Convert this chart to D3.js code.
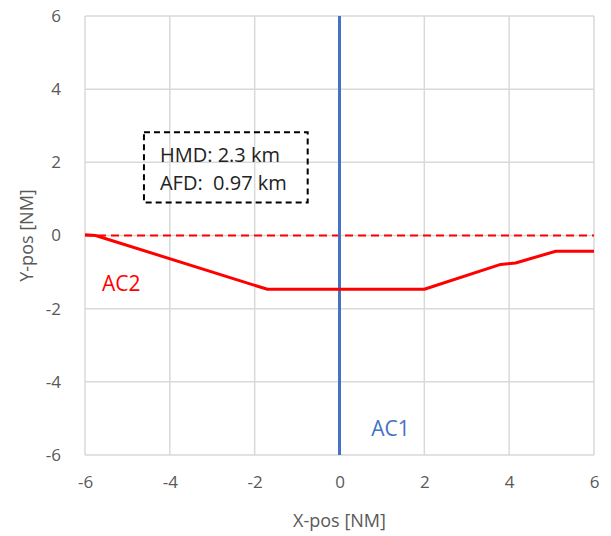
<!DOCTYPE html>
<html>
<head>
<meta charset="utf-8">
<script src="https://cdn.jsdelivr.net/npm/d3@7"></script>
<style>
  body { margin: 0; background: #fff; }
  text { font-family: "Open Sans", "Noto Sans", sans-serif; }
</style>
</head>
<body>
<div id="chart"></div>
<script>
// Data
const xTicks = [-6, -4, -2, 0, 2, 4, 6];
const yTicks = [-6, -4, -2, 0, 2, 4, 6];

// AC2 track (red)
const ac2X = [-6, -5.75, -1.7, 2.0, 3.8, 4.15, 5.1, 6];
const ac2Y = [0.02, 0.0, -1.47, -1.47, -0.79, -0.75, -0.43, -0.43];

// AC1 track (blue, vertical)
const ac1X = [0, 0];
const ac1Y = [-6, 6];

// reference line y = 0
const refX = [-6, 6];
const refY = [0, 0];

const infoLines = ["HMD: 2.3 km", "AFD:  0.97 km"];

const W = 611, H = 536;
const margin = { top: 16, right: 17, bottom: 81, left: 85 };
const width = W - margin.left - margin.right;
const height = H - margin.top - margin.bottom;

const svg = d3.select("#chart").append("svg")
  .attr("width", W).attr("height", H);

const g = svg.append("g")
  .attr("transform", `translate(${margin.left},${margin.top})`);

const x = d3.scaleLinear().domain([-6, 6]).range([0, width]);
const y = d3.scaleLinear().domain([-6, 6]).range([height, 0]);

const gridColor = "#d9d9d9";
const labelColor = "#595959";

// grid
g.append("g")
  .selectAll("line")
  .data(xTicks)
  .join("line")
  .attr("x1", d => x(d)).attr("x2", d => x(d))
  .attr("y1", 0).attr("y2", height)
  .attr("stroke", gridColor).attr("stroke-width", 1.5);

g.append("g")
  .selectAll("line")
  .data(yTicks)
  .join("line")
  .attr("y1", d => y(d)).attr("y2", d => y(d))
  .attr("x1", 0).attr("x2", width)
  .attr("stroke", gridColor).attr("stroke-width", 1.5);

// axes (labels only), plain hyphen minus like the original
const xAxis = g.append("g")
  .attr("transform", `translate(0,${height})`)
  .call(d3.axisBottom(x).tickValues(xTicks).tickFormat(d => String(d))
    .tickSize(0).tickPadding(21));
const yAxis = g.append("g")
  .call(d3.axisLeft(y).tickValues(yTicks).tickFormat(d => String(d))
    .tickSize(0).tickPadding(24));

[xAxis, yAxis].forEach(a => {
  a.select(".domain").remove();
  a.selectAll("text")
    .attr("fill", labelColor)
    .style("font-size", "17px")
    .style("font-family", "'Open Sans', sans-serif");
});

// axis titles
svg.append("text")
  .attr("x", margin.left + width / 2)
  .attr("y", 527)
  .attr("text-anchor", "middle")
  .attr("fill", labelColor)
  .style("font-size", "18px")
  .text("X-pos [NM]");

svg.append("text")
  .attr("transform", "rotate(-90)")
  .attr("x", -(margin.top + y(0)))
  .attr("y", 33)
  .attr("text-anchor", "middle")
  .attr("fill", labelColor)
  .style("font-size", "18px")
  .text("Y-pos [NM]");

const line = d3.line()
  .x(d => x(d[0]))
  .y(d => y(d[1]));

// dashed zero reference
g.append("path")
  .datum(d3.zip(refX, refY))
  .attr("d", line)
  .attr("fill", "none")
  .attr("stroke", "#ff0000")
  .attr("stroke-width", 2)
  .attr("stroke-dasharray", "8 5");

// AC1
g.append("path")
  .datum(d3.zip(ac1X, ac1Y))
  .attr("d", line)
  .attr("fill", "none")
  .attr("stroke", "#4472c4")
  .attr("stroke-width", 3);

// AC2
g.append("path")
  .datum(d3.zip(ac2X, ac2Y))
  .attr("d", line)
  .attr("fill", "none")
  .attr("stroke", "#ff0000")
  .attr("stroke-width", 3)
  .attr("stroke-linejoin", "round");

// series labels
g.append("text")
  .attr("x", x(-5.6)).attr("y", y(-1.53))
  .attr("fill", "#ff0000")
  .style("font-size", "21px")
  .text("AC2");

g.append("text")
  .attr("x", x(0.75)).attr("y", y(-5.48))
  .attr("fill", "#4472c4")
  .style("font-size", "21px")
  .text("AC1");

// info box
const bx0 = x(-4.61), bx1 = x(-0.75), by0 = y(2.82), by1 = y(0.9);
g.append("rect")
  .attr("x", bx0).attr("y", by0)
  .attr("width", bx1 - bx0).attr("height", by1 - by0)
  .attr("fill", "none")
  .attr("stroke", "#000")
  .attr("stroke-width", 2)
  .attr("stroke-dasharray", "6 4");

g.selectAll("text.info")
  .data(infoLines)
  .join("text")
  .attr("class", "info")
  .attr("x", bx0 + 16)
  .attr("y", (d, i) => by0 + 30 + i * 28)
  .attr("fill", "#222")
  .style("font-size", "20px")
  .style("white-space", "pre")
  .text(d => d);
</script>
</body>
</html>
